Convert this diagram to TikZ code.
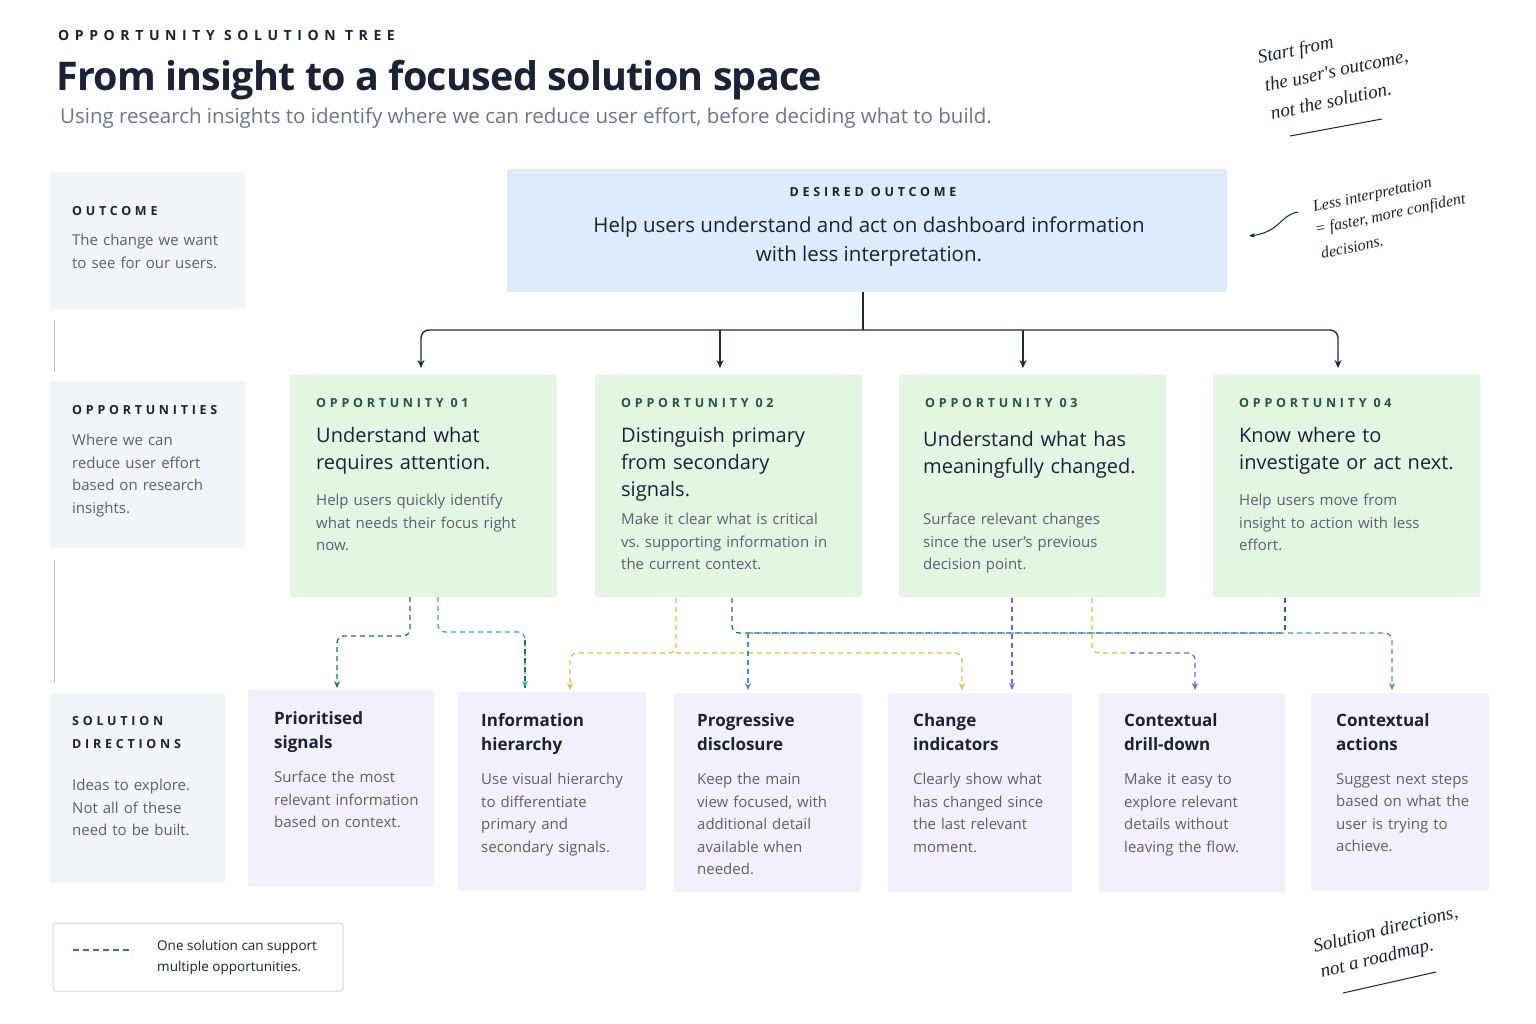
\documentclass[tikz,border=0pt]{standalone}
\usepackage{fontspec}
\setmainfont{Open Sans}
\newfontfamily\hand{Liberation Serif}
\usetikzlibrary{arrows.meta}
\definecolor{navy}{HTML}{1B2A4A}
\definecolor{dg}{HTML}{1A7A4C}
\definecolor{teal}{HTML}{22BE91}
\definecolor{yel}{HTML}{F4B92E}
\definecolor{blu}{HTML}{3A8CF5}
\definecolor{pur}{HTML}{7B5CEE}
\definecolor{txt}{HTML}{1A2238}
\definecolor{gtxt}{HTML}{5A6072}
\definecolor{sub}{HTML}{6B7590}
\definecolor{outc}{HTML}{DDEBFA}
\definecolor{oppc}{HTML}{E3F6E2}
\definecolor{solc}{HTML}{F2F1FB}
\definecolor{sidec}{HTML}{F3F4F7}
\definecolor{oppl}{HTML}{1F5A38}
\begin{document}
\hyphenpenalty=10000 \exhyphenpenalty=10000
\begin{tikzpicture}[x=1pt,y=-1pt,
  lbl/.style={anchor=north west,inner sep=0pt,font=\fontsize{12.5}{16}\selectfont\bfseries\addfontfeature{LetterSpace=30}},
  opph/.style={anchor=north west,inner sep=0pt,text width=240pt,align=left,text=txt,font=\fontsize{20}{27}\selectfont},
  body/.style={anchor=north west,inner sep=0pt,text width=#1,align=left,text=gtxt,font=\fontsize{15}{22.5}\selectfont},
  solh/.style={anchor=north west,inner sep=0pt,text width=170pt,align=left,text=txt,font=\fontsize{17}{24}\selectfont\bfseries},
  box/.style={draw=none,rounded corners=2pt},
  dsh/.style={dash pattern=on 5pt off 4pt,line width=1.3pt,rounded corners=7pt,-{Stealth[length=7pt,width=6pt]}},
  dshn/.style={dash pattern=on 5pt off 4pt,line width=1.3pt,rounded corners=7pt},
  tree/.style={navy,line width=1.4pt,rounded corners=8pt},
  hw/.style={inner sep=0pt,anchor=base west,text=txt,font=\hand\itshape\fontsize{19}{24}\selectfont}]
\fill[white] (0,0) rectangle (1536,1024);
\useasboundingbox (0,0) rectangle (1536,1024);
% header
\node[lbl,text=txt,font=\fontsize{14}{16}\selectfont\bfseries\addfontfeature{LetterSpace=40}] (kick) at (58,30) {OPPORTUNITY SOLUTION TREE};
\node[anchor=north west,inner sep=0pt,text=txt,font=\fontsize{39.5}{44}\selectfont\bfseries\addfontfeature{LetterSpace=-2}] (title) at (56,60) {From insight to a focused solution space};
\node[anchor=north west,inner sep=0pt,text=sub,font=\fontsize{20.5}{24}\selectfont] (subt) at (60,108) {Using research insights to identify where we can reduce user effort, before deciding what to build.};
% side column
\fill[sidec,box] (50,172) rectangle (245,309);
\node[lbl,text=txt] (s1l) at (72,206) {OUTCOME};
\node[body=160pt] (s1b) at (72,234) {The change we want to see for our users.};
\fill[sidec,box] (50,381) rectangle (245,548);
\node[lbl,text=txt] (s2l) at (72,405) {OPPORTUNITIES};
\node[body=150pt] (s2b) at (72,434) {Where we can reduce user effort based on research insights.};
\fill[sidec,box] (50,693) rectangle (225,883);
\node[lbl,text=txt,text width=150pt,align=left,font=\fontsize{12.5}{23}\selectfont\bfseries\addfontfeature{LetterSpace=30}] (s3l) at (72,716) {SOLUTION\\DIRECTIONS};
\node[body=140pt] (s3b) at (72,779) {Ideas to explore. Not all of these need to be built.};
\draw[gray!50,line width=1pt] (54,320) -- (54,372) (54,560) -- (54,683);
% outcome
\fill[outc,box] (507,169) rectangle (1227,292);
\node[lbl,anchor=north,text=txt] (outl) at (873,187) {DESIRED OUTCOME};
\node[anchor=north,inner sep=0pt,align=center,text=txt,font=\fontsize{20.5}{29}\selectfont] (outt) at (869,217) {Help users understand and act on dashboard information\\with less interpretation.};
\coordinate (ob) at (863,292);
% opportunities
\foreach \n/\x in {1/290,2/595,3/899,4/1213}{
  \fill[oppc,box] (\x,375) rectangle ++(267,222);
  \node[lbl,text=oppl] (ol\n) at (\x+26,398) {OPPORTUNITY 0\n};
}
\node[opph] (oh1) at (316,427) {Understand what\\requires attention.};
\node[body=215pt] (ob1) at (316,494) {Help users quickly identify what needs their focus right now.};
\node[opph] (oh2) at (621,427) {Distinguish primary\\from secondary\\signals.};
\node[body=215pt] (ob2) at (621,513) {Make it clear what is critical vs.\ supporting information in the current context.};
\node[opph] (oh3) at (923,431) {Understand what has\\meaningfully changed.};
\node[body=205pt] (ob3) at (923,513) {Surface relevant changes since the user's previous decision point.};
\node[opph] (oh4) at (1239,427) {Know where to\\investigate or act next.};
\node[body=205pt] (ob4) at (1239,494) {Help users move from insight to action with less effort.};
% tree
\draw[tree] (ob) -- (863,330);
\draw[tree,-{Stealth[length=8pt,width=7pt]}] (863,330) -| (421,368);
\draw[tree,-{Stealth[length=8pt,width=7pt]}] (863,330) -| (1338,368);
\draw[tree,-{Stealth[length=8pt,width=7pt]}] (720,330) -- (720,368);
\draw[tree,-{Stealth[length=8pt,width=7pt]}] (1023,330) -- (1023,368);
% solutions
\foreach \n/\x/\y/\w/\h in {1/248/690/186/197,2/457/692/189/198,3/673/693/188/199,4/888/693/184/199,5/1099/693/186/199,6/1311/693/178/198}{
  \fill[solc,box] (\x,\y) rectangle ++(\w,\h);
}
\node[solh] (sh1) at (274,711) {Prioritised\\signals};
\node[body=150pt] (sb1) at (274,771) {Surface the most relevant information based on context.};
\node[solh] (sh2) at (481,713) {Information\\hierarchy};
\node[body=155pt] (sb2) at (481,773) {Use visual hierarchy to differentiate primary and secondary signals.};
\node[solh] (sh3) at (697,713) {Progressive\\disclosure};
\node[body=150pt] (sb3) at (697,773) {Keep the main view focused, with additional detail available when needed.};
\node[solh] (sh4) at (913,713) {Change\\indicators};
\node[body=140pt] (sb4) at (913,773) {Clearly show what has changed since the last relevant moment.};
\node[solh] (sh5) at (1124,713) {Contextual\\drill-down};
\node[body=130pt] (sb5) at (1124,773) {Make it easy to explore relevant details without leaving the flow.};
\node[solh] (sh6) at (1336,713) {Contextual\\actions};
\node[body=140pt] (sb6) at (1336,773) {Suggest next steps based on what the user is trying to achieve.};
% dashed connectors
\draw[dsh,dg] (410,597) -- (410,636) -| (337,688);
\draw[dsh,teal] (438,597) -- (438,632) -| (525,688);
\draw[dshn,dg] (525,640) -- (525,688);
\draw[dsh,yel] (676,598) -- (676,653) -| (570,690);
\draw[dsh,yel] (676,653) -| (962,690);
\draw[dshn,dg] (732,598) -- (732,633) -- (1285,633);
\draw[dshn,dg] (1285,598) -- (1285,633);
\draw[dsh,blu] (748,633) -- (748,690);
\draw[dsh,blu] (748,633) -- (1392,633) -- (1392,690);
\draw[dsh,pur,rounded corners=0pt] (1012,598) -- (1012,690);
\draw[dshn,yel] (1092,598) -- (1092,653) -- (1140,653);
\draw[dsh,pur] (1130,653) -| (1195,690);
% legend
\draw[gray!30,line width=1pt,rounded corners=3pt] (53,923) rectangle (343,991);
\draw[blu!70!navy,line width=1.5pt,dash pattern=on 6pt off 4pt] (73,950) -- (133,950);
\node[anchor=west,inner sep=0pt,align=left,text=txt,font=\fontsize{13.5}{21}\selectfont] (leg) at (157,957) {One solution can support\\multiple opportunities.};
% handwritten notes (one node per line)
\node[hw,rotate=12] (n1a) at (1259,64) {Start from};
\node[hw,rotate=12] (n1b) at (1266,92) {the user's outcome,};
\node[hw,rotate=12] (n1c) at (1272,120) {not the solution.};
\draw[txt,line width=1pt] (1290,136) -- (1382,119);
\node[hw,rotate=12,font=\hand\itshape\fontsize{16}{20}\selectfont] (n2a) at (1314,212) {Less interpretation};
\node[hw,rotate=12,font=\hand\itshape\fontsize{16}{20}\selectfont] (n2b) at (1316,235) {= faster, more confident};
\node[hw,rotate=12,font=\hand\itshape\fontsize{16}{20}\selectfont] (n2c) at (1322,259) {decisions.};
\coordinate (arrw) at (1249,236);
\draw[txt,line width=1pt,-{Stealth[length=6pt]}] (1298,212) .. controls (1280,215) and (1280,232) .. (arrw);
\node[hw,rotate=14] (n3a) at (1315,953) {Solution directions,};
\node[hw,rotate=14] (n3b) at (1322,978) {not a roadmap.};
\draw[txt,line width=1pt] (1343,993) -- (1436,972);
\end{tikzpicture}
\end{document}
